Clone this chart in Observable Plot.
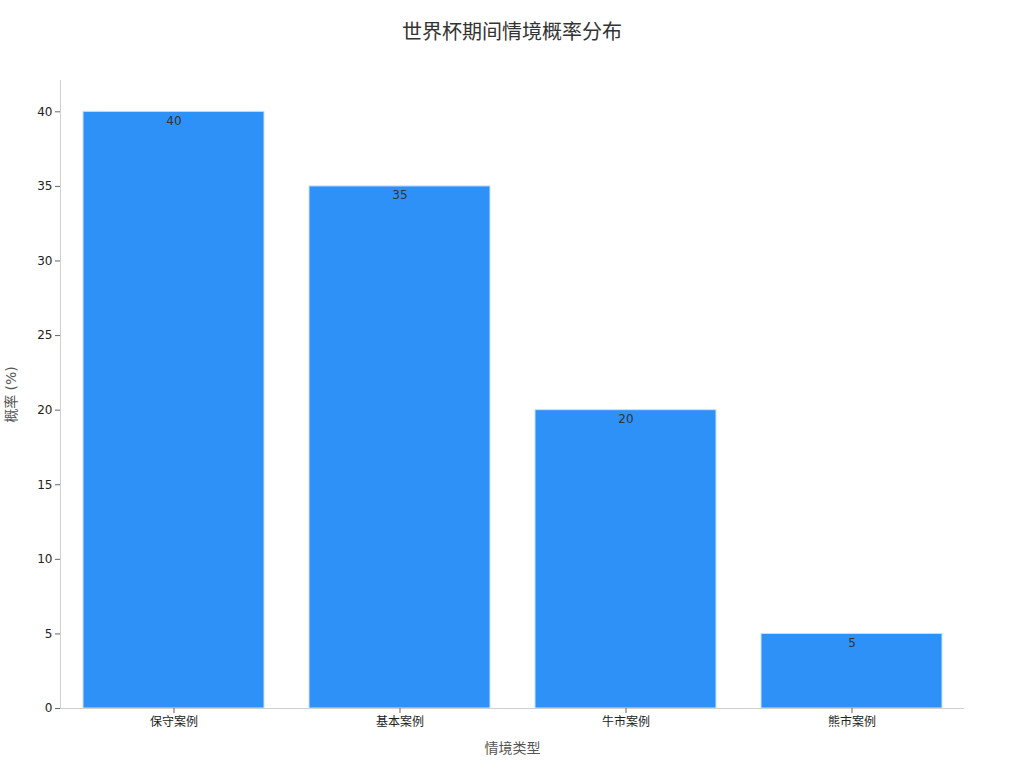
<!DOCTYPE html>
<html>
<head>
<meta charset="utf-8">
<script src="https://cdn.jsdelivr.net/npm/d3@7"></script>
<script src="https://cdn.jsdelivr.net/npm/@observablehq/plot@0.6"></script>
<style>
  html, body { margin: 0; padding: 0; background: #fff; }
  body { width: 1024px; height: 768px; overflow: hidden; font-family: "DejaVu Sans", "Noto Sans CJK SC", sans-serif; }
  #title { height: 60px; line-height: 64px; text-align: center; font-size: 20px; color: #333; }
</style>
</head>
<body>
<div id="title">世界杯期间情境概率分布</div>
<div id="chart"></div>
<script>
const categories = ["保守案例", "基本案例", "牛市案例", "熊市案例"];
const probabilities = [40, 35, 20, 5];
const yTicks = [0, 5, 10, 15, 20, 25, 30, 35, 40];

const data = categories.map((c, i) => ({category: c, value: probabilities[i]}));

const chart = Plot.plot({
  width: 1024,
  height: 708,
  marginTop: 20,
  marginBottom: 60,
  marginLeft: 60,
  marginRight: 60,
  style: {fontFamily: '"DejaVu Sans", "Noto Sans CJK SC", sans-serif', fontSize: "12px", color: "#222", background: "#fff"},
  x: {domain: categories, paddingInner: 0.2, paddingOuter: 0.1},
  y: {domain: [0, 42.1]},
  marks: [
    Plot.barY(data, {x: "category", y: "value", fill: "#2e91f8", stroke: "#c8e2fd", strokeWidth: 1}),
    Plot.text(data, {x: "category", y: "value", text: d => String(d.value), dy: 9, fill: "#333", fontSize: 12}),
    Plot.frame({anchor: "left", stroke: "#d0d0d0"}),
    Plot.ruleY([0], {stroke: "#d0d0d0"}),
    Plot.axisY({ticks: yTicks, tickSize: 5, tickPadding: 3, stroke: "#666", label: "概率 (%)", labelArrow: "none", labelAnchor: "center", labelOffset: 54, fontSize: 12, fill: "#222"}),
    Plot.axisX({tickSize: 5, tickPadding: 4, stroke: "#666", label: "情境类型", labelArrow: "none", labelAnchor: "center", labelOffset: 44, fontSize: 12, fill: "#222"})
  ]
});
document.getElementById("chart").appendChild(chart);

// style axis labels (gray, larger) and strip any arrow
chart.querySelectorAll('g[aria-label="y-axis label"] text, g[aria-label="x-axis label"] text').forEach(t => {
  t.setAttribute("fill", "#555");
  t.style.fontSize = "14px";
  t.textContent = t.textContent.replace(/\s*[↑→↓←]\s*/g, "");
});
</script>
</body>
</html>
